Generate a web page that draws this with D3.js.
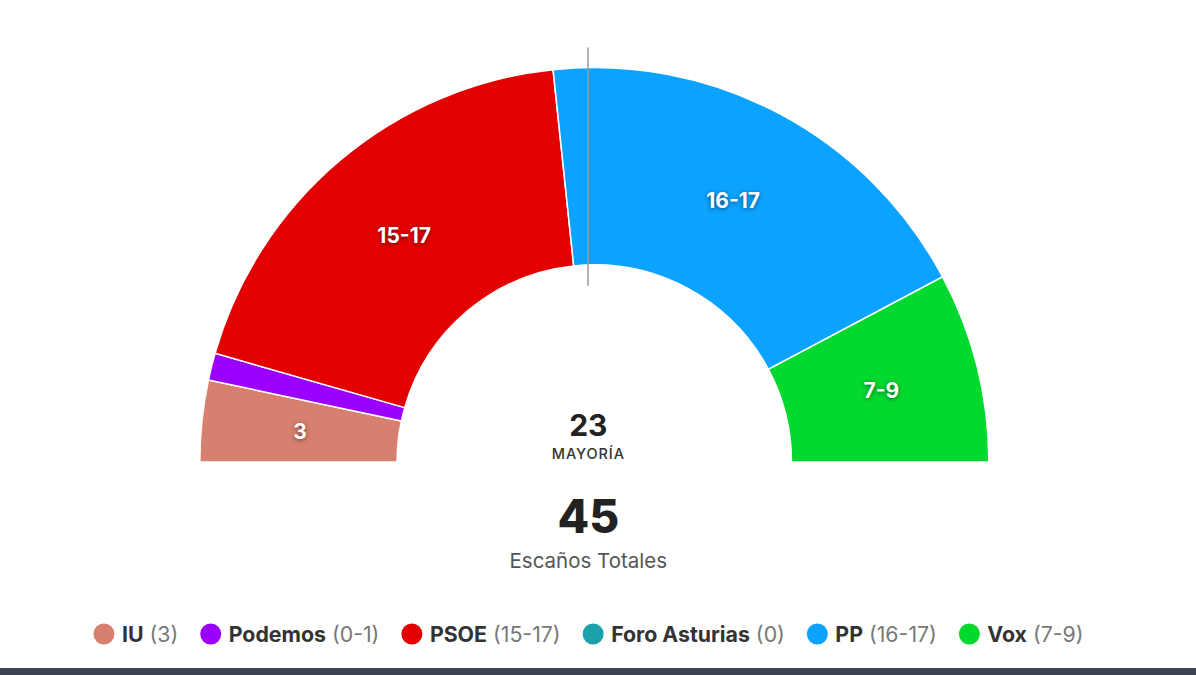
<!DOCTYPE html>
<html>
<head>
<meta charset="utf-8">
<script src="https://cdn.jsdelivr.net/npm/d3@7"></script>
<style>
  html, body { margin: 0; padding: 0; background: #fff; }
  body { width: 1196px; height: 675px; overflow: hidden; font-family: Inter, "Noto Sans", sans-serif; }
  .arc-label { fill: #fff; font-weight: 700; font-size: 21px; text-anchor: middle; dominant-baseline: central; text-shadow: 0 1px 4px rgba(0,0,0,0.55); }
</style>
</head>
<body>
<svg id="chart" width="1196" height="675"></svg>
<script>
const parties = ["IU", "Podemos", "PSOE", "Foro Asturias", "PP", "Vox"];
const seats = [3, 1, 17, 0, 17, 7];
const ranges = ["3", "0-1", "15-17", "0", "16-17", "7-9"];
const colors = ["#d7806f", "#9b00ff", "#e30000", "#1aa1ab", "#0ba3ff", "#02d92f"];
const totalSeats = 45;
const majority = 23;

const W = 1196, H = 675;
const cx = 594.3, cy = 462, R = 394.5, r = 197.2;
const svg = d3.select("#chart");

const data = parties.map((p, i) => ({ party: p, seats: seats[i], range: ranges[i], color: colors[i] }));

const pie = d3.pie().sort(null).value(d => d.seats)
  .startAngle(-Math.PI / 2).endAngle(Math.PI / 2);
const arc = d3.arc().innerRadius(r).outerRadius(R);
const arcs = pie(data);

const g = svg.append("g").attr("transform", `translate(${cx},${cy})`);
g.selectAll("path.seg").data(arcs.filter(d => d.data.seats > 0)).join("path")
  .attr("class", "seg")
  .attr("d", arc)
  .attr("fill", d => d.data.color)
  .attr("stroke", "#fff")
  .attr("stroke-width", 1.5);

// labels for larger segments
g.selectAll("text.arc-label").data(arcs.filter(d => d.data.seats >= 3)).join("text")
  .attr("class", "arc-label")
  .attr("transform", d => `translate(${arc.centroid(d)})`)
  .text(d => d.data.range);

// majority line
const lx = cx - 6.3;
svg.append("line")
  .attr("x1", lx).attr("x2", lx)
  .attr("y1", cy - R - 20).attr("y2", cy - r + 21)
  .attr("stroke", "#9a9a9a").attr("stroke-width", 1.5);

// center texts
svg.append("text").attr("x", cx - 6).attr("y", 436).attr("text-anchor", "middle")
  .attr("font-size", 30).attr("font-weight", 700).attr("fill", "#222").text(majority);
svg.append("text").attr("x", cx - 6).attr("y", 459).attr("text-anchor", "middle")
  .attr("font-size", 14.5).attr("font-weight", 500).attr("letter-spacing", 0.9).attr("fill", "#333").text("MAYORÍA");
svg.append("text").attr("x", cx - 6).attr("y", 533).attr("text-anchor", "middle")
  .attr("font-size", 46).attr("font-weight", 800).attr("fill", "#222").text(totalSeats);
svg.append("text").attr("x", cx - 6).attr("y", 568).attr("text-anchor", "middle")
  .attr("font-size", 20.5).attr("font-weight", 400).attr("fill", "#555").text("Escaños Totales");

// legend
const legend = svg.append("g");
let x = 0;
const ly = 634;
const fs = 21.3;
data.forEach(d => {
  const item = legend.append("g");
  item.append("circle").attr("cx", x + 10.5).attr("cy", ly).attr("r", 10.5).attr("fill", d.color);
  const t = item.append("text").attr("x", x + 28.5).attr("y", ly + 7.6).attr("font-size", fs);
  t.append("tspan").attr("font-weight", 700).attr("fill", "#333").text(d.party);
  t.append("tspan").attr("font-weight", 400).attr("fill", "#777").text(" (" + d.range + ")");
  const w = t.node().getComputedTextLength();
  x += 28.5 + w + 22;
});
const totalW = x - 22;
legend.attr("transform", `translate(${588.5 - totalW / 2},0)`);

// bottom bar
svg.append("rect").attr("x", 0).attr("y", 668).attr("width", W).attr("height", 7).attr("fill", "#3b4450");
</script>
</body>
</html>
